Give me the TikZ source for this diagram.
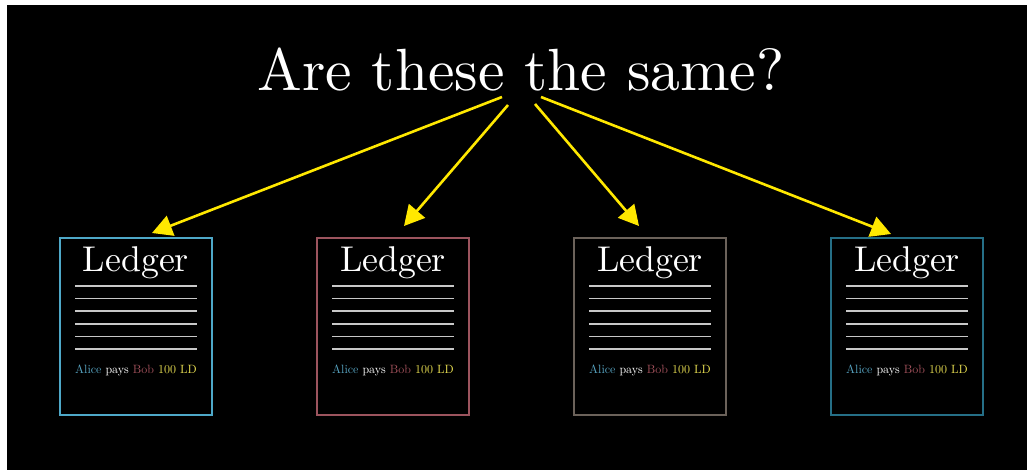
\documentclass[tikz,border=0pt]{standalone}
\usepackage{fontspec}
\usetikzlibrary{arrows.meta}

\definecolor{arrowyellow}{RGB}{255,232,0}
\definecolor{linegray}{RGB}{200,200,200}
\definecolor{aliceblue}{RGB}{88,166,196}
\definecolor{bobred}{RGB}{160,80,90}
\definecolor{ldyellow}{RGB}{230,220,80}
\definecolor{edgeA}{RGB}{78,168,200}
\definecolor{edgeB}{RGB}{156,84,94}
\definecolor{edgeC}{RGB}{107,98,90}
\definecolor{edgeD}{RGB}{37,111,135}

% text set at 10pt design size, then enlarged
\newcommand{\bigtext}[2]{\scalebox{#1}{\fontsize{10}{12}\selectfont #2}}

\tikzset{
  ledgerbox/.style={draw=#1, line width=2.5pt, minimum width=152pt,
    minimum height=177pt, inner sep=0pt, fill=black},
  ledgertitle/.style={text=white, anchor=base, inner sep=0pt},
  ruleline/.style={draw=linegray, line width=1.7pt},
  entry/.style={anchor=base, inner sep=0pt},
  pointer/.style={draw=arrowyellow, line width=2.6pt,
    -{Triangle[length=20pt,width=21pt]}},
}

\newcommand{\ledger}[3]{%
  \node[ledgerbox=#3] (#1) at (#2) {};
  \node[ledgertitle] (#1-head) at ([yshift=-35pt]#1.north)
    {\bigtext{3.58}{Ledger}};
  \foreach \k in {0,...,5} {
    \draw[ruleline] ([xshift=-61pt,yshift={-49pt-12.7pt*\k}]#1.north)
      -- ([xshift=61pt,yshift={-49pt-12.7pt*\k}]#1.north);
  }
  \node[entry] (#1-entry) at ([yshift=-137pt]#1.north)
    {\bigtext{1.2}{\textcolor{aliceblue}{Alice} \textcolor{white}{pays}
     \textcolor{bobred}{Bob} \textcolor{ldyellow}{100 LD}}};
}

\begin{document}
\begin{tikzpicture}[x=1pt, y=-1pt]
  % canvas
  \fill[white] (0,0) rectangle (1027,470);
  \fill[black] (7,5) rectangle (1027,470);
  \useasboundingbox (0,0) rectangle (1027,470);

  % question
  \node[text=white, anchor=base, inner sep=0pt] (question) at (521,91)
    {\resizebox{527pt}{!}{\fontsize{10}{12}\selectfont Are these the same?}};

  % four ledgers
  \ledger{L1}{136,326.5}{edgeA}
  \ledger{L2}{393,326.5}{edgeB}
  \ledger{L3}{650,326.5}{edgeC}
  \ledger{L4}{907,326.5}{edgeD}

  % arrow ends
  \coordinate (s1) at (502,97);
  \coordinate (s2) at (508,105);
  \coordinate (s3) at (535,104);
  \coordinate (s4) at (541,97);
  \coordinate (t1) at (152,233);
  \coordinate (t2) at (404,226);
  \coordinate (t3) at (639,226);
  \coordinate (t4) at (891,234);

  \draw[pointer] (s1) -- (t1);
  \draw[pointer] (s2) -- (t2);
  \draw[pointer] (s3) -- (t3);
  \draw[pointer] (s4) -- (t4);
\end{tikzpicture}
\end{document}
